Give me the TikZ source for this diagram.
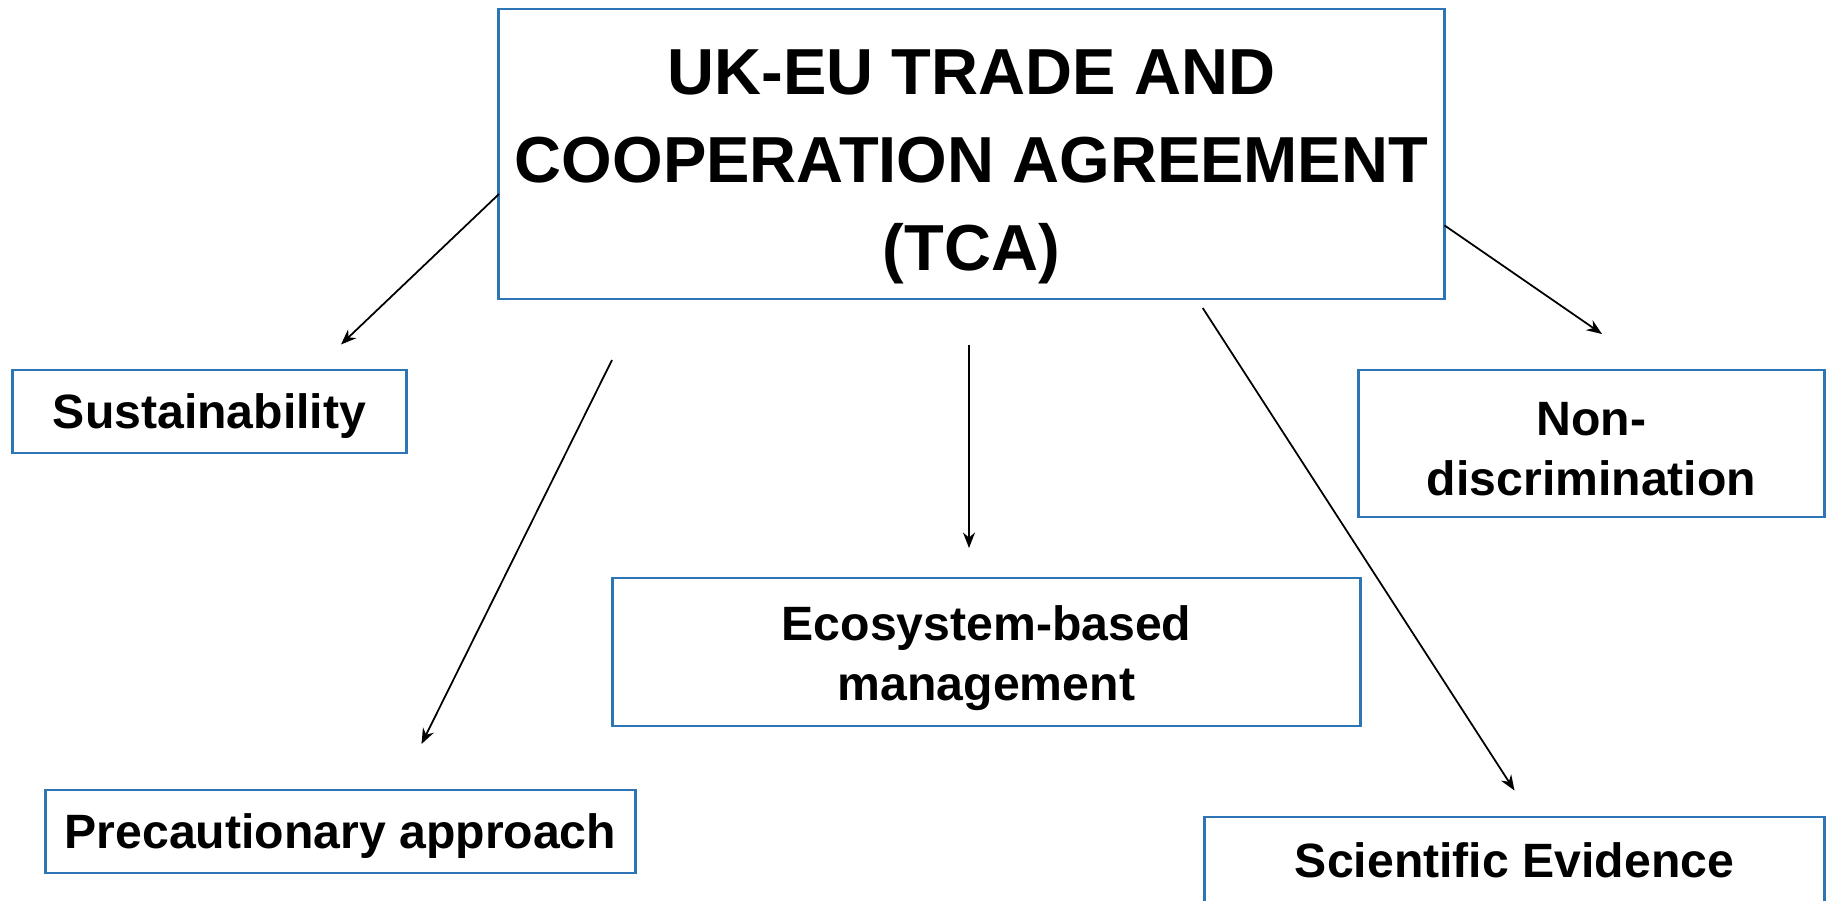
\documentclass[tikz,border=0pt]{standalone}
\usepackage{fontspec}
\setmainfont{Liberation Sans}
\usetikzlibrary{positioning, arrows.meta}

\definecolor{boxblue}{RGB}{46,117,182}

\begin{document}
\begin{tikzpicture}[x=0.01cm, y=-0.01cm, >={Stealth[length=4.4pt, width=3.4pt]},
    box/.style={rectangle, draw=boxblue, line width=0.8pt, align=center,
      inner sep=0pt, font=\bfseries\fontsize{13.7}{17}\selectfont},
    oneline/.style={box, text depth=0pt},
    link/.style={->, line width=0.5pt}]

  \useasboundingbox (0,0) rectangle (1831,900);

  \node[box, minimum width=9.45cm, minimum height=2.9cm,
    font=\bfseries\fontsize{18.5}{25}\selectfont] (tca) at (971.5,154)
    {\rule{0pt}{20pt}UK-EU TRADE AND\\COOPERATION AGREEMENT\\(TCA)};
  \node[oneline, minimum width=3.93cm, minimum height=0.83cm] (sus) at (209.5,411.5) {Sustainability};
  \node[box, minimum width=4.65cm, minimum height=1.47cm] (nondisc) at (1591.5,443.5) {\rule{0pt}{12.8pt}Non-\\discrimination};
  \node[box, minimum width=7.47cm, minimum height=1.48cm] (eco) at (986.5,652) {\rule{0pt}{13.5pt}Ecosystem-based\\management};
  \node[oneline, minimum width=5.89cm, minimum height=0.83cm] (prec) at (340.5,831.5) {Precautionary approach};
  % box runs off the bottom edge
  \node[box, text depth=6.6pt, minimum width=6.19cm, minimum height=1.1cm] (sci) at (1514.5,872) {Scientific Evidence};

  \coordinate (sus-from) at (499,194);
  \coordinate (sus-to) at (341,344.5);
  \coordinate (prec-from) at (612,360);
  \coordinate (prec-to) at (421.5,744);
  \coordinate (eco-from) at (969,344.5);
  \coordinate (eco-to) at (969,548);
  \coordinate (sci-from) at (1202.7,308);
  \coordinate (sci-to) at (1514.5,790.5);
  \coordinate (nondisc-from) at (1444.5,225.4);
  \coordinate (nondisc-to) at (1602,334);

  \draw[link] (sus-from) -- (sus-to);
  \draw[link] (prec-from) -- (prec-to);
  \draw[link] (eco-from) -- (eco-to);
  \draw[link] (sci-from) -- (sci-to);
  \draw[link] (nondisc-from) -- (nondisc-to);
\end{tikzpicture}
\end{document}
